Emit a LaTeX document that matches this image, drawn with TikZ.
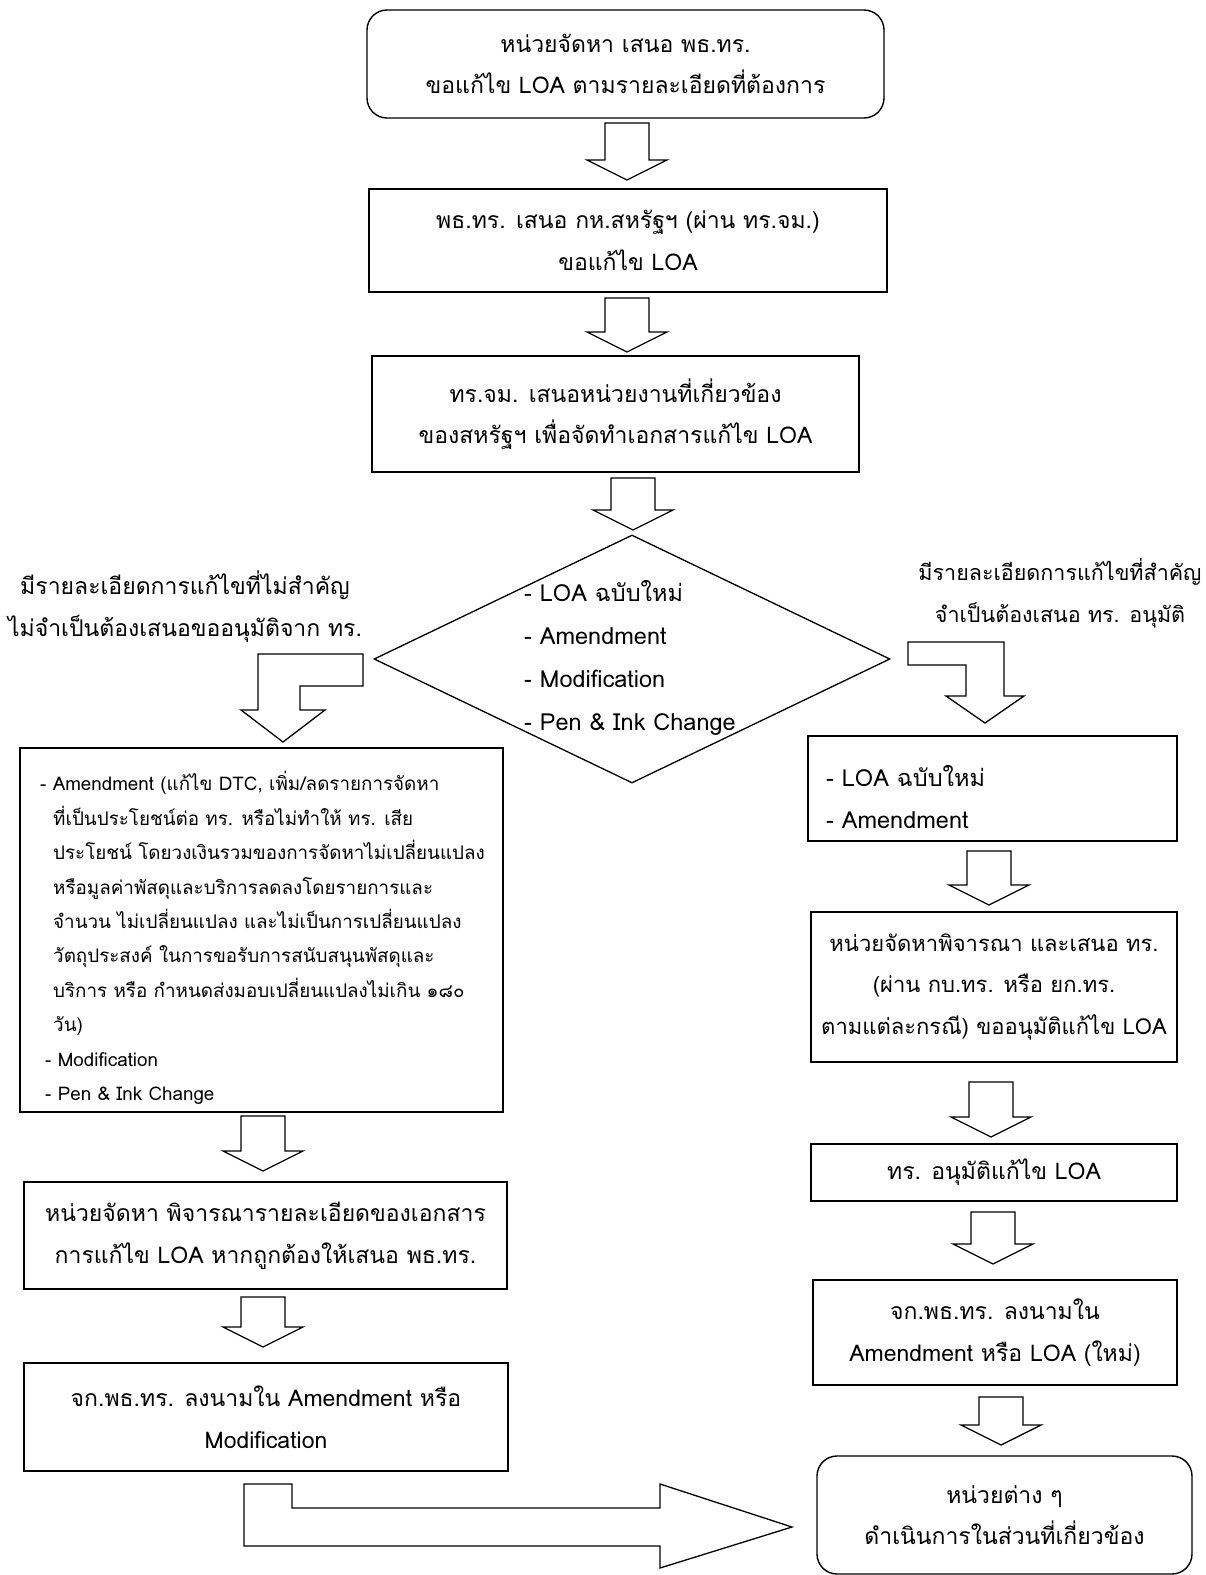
\documentclass[tikz,border=0pt]{standalone}
\usepackage{fontspec}
\newfontfamily\thaifont[Script=Thai]{Loma}
\usetikzlibrary{shapes.geometric}
\tikzset{
  box/.style={draw, line width=1.4pt, inner sep=0pt, align=center,
    font=\thaifont\fontsize{23}{41.5}\selectfont},
  rbox/.style={box, rounded corners=20pt},
  lbl/.style={inner sep=0pt, align=center, font=\thaifont\fontsize{23}{42}\selectfont},
  llbl/.style={inner sep=0pt, align=left, font=\thaifont\fontsize{23.5}{43}\selectfont},
  slbl/.style={inner sep=0pt, align=left, font=\thaifont\fontsize{18.8}{34.4}\selectfont},
  barrow/.style={draw, line width=1.3pt, line join=miter, fill=white},
  dmd/.style={draw, diamond, line width=1.3pt, inner sep=0pt}
}
\newcommand\DnArr[2]{%
  \draw[barrow] (#1) ++(-22,0) -- ++(0,#2-20) -- ++(-18,0) -- ++(40,20)
    -- ++(40,-20) -- ++(-18,0) -- ++(0,-#2+20) -- cycle;}
\begin{document}
\begin{tikzpicture}[x=1pt,y=-1pt]
\useasboundingbox (0,0) rectangle (1206,1575);
% central column
\node[rbox, minimum width=517, minimum height=108] (b1) at (625.5,64)
  {หน่วยจัดหา เสนอ พธ.ทร.\\ขอแก้ไข LOA ตามรายละเอียดที่ต้องการ};
\node[box, minimum width=518, minimum height=103] (b2) at (628,240.5)
  {พธ.ทร. เสนอ กห.สหรัฐฯ (ผ่าน ทร.จม.)\\ขอแก้ไข LOA};
\node[box, minimum width=487, minimum height=116] (b3) at (615.5,414)
  {ทร.จม. เสนอหน่วยงานที่เกี่ยวข้อง\\ของสหรัฐฯ เพื่อจัดทำเอกสารแก้ไข LOA};
\coordinate (a1) at (627,123); \DnArr{a1}{57}
\coordinate (a2) at (627,298); \DnArr{a2}{54}
\coordinate (a3) at (633,478); \DnArr{a3}{52}
% diamond
\node[dmd, minimum width=516, minimum height=248] (dm) at (632,659) {};
\node[llbl, anchor=west] (dmt) at (524,658)
  {- LOA ฉบับใหม่\\- Amendment\\- Modification\\- Pen \& Ink Change};
% side labels
\node[lbl] (ll) at (185,607)
  {มีรายละเอียดการแก้ไขที่ไม่สำคัญ\\ไม่จำเป็นต้องเสนอขออนุมัติจาก ทร.};
\node[lbl, font=\thaifont\fontsize{21.5}{42}\selectfont] (rl) at (1060,593)
  {มีรายละเอียดการแก้ไขที่สำคัญ\\จำเป็นต้องเสนอ ทร. อนุมัติ};
% bent arrows from diamond
\coordinate (lba) at (363,654);
\draw[barrow] (lba) -- (258,654) -- (258,710) -- (241,710) -- (283,742)
  -- (325,710) -- (300,710) -- (300,686) -- (363,686) -- cycle;
\coordinate (rba) at (908,642);
\draw[barrow] (rba) -- (1004,642) -- (1004,696) -- (1024,696) -- (985,723)
  -- (946,696) -- (966,696) -- (966,665) -- (908,665) -- cycle;
% left column
\node[box, minimum width=483, minimum height=364] (l1) at (261.5,930) {};
\node[slbl, anchor=west] (l1t) at (40,938)
  {- Amendment (แก้ไข DTC, เพิ่ม/ลดรายการจัดหา\\
   \hspace*{13pt}ที่เป็นประโยชน์ต่อ ทร. หรือไม่ทำให้ ทร. เสีย\\
   \hspace*{13pt}ประโยชน์ โดยวงเงินรวมของการจัดหาไม่เปลี่ยนแปลง\\
   \hspace*{13pt}หรือมูลค่าพัสดุและบริการลดลงโดยรายการและ\\
   \hspace*{13pt}จำนวน ไม่เปลี่ยนแปลง และไม่เป็นการเปลี่ยนแปลง\\
   \hspace*{13pt}วัตถุประสงค์ ในการขอรับการสนับสนุนพัสดุและ\\
   \hspace*{13pt}บริการ หรือ กำหนดส่งมอบเปลี่ยนแปลงไม่เกิน ๑๘๐\\
   \hspace*{13pt}วัน)\\
   \hspace*{5pt}- Modification\\
   \hspace*{5pt}- Pen \& Ink Change};
\coordinate (al1) at (263,1116); \DnArr{al1}{55}
\node[box, minimum width=483, minimum height=107] (l2) at (265.5,1235.5)
  {หน่วยจัดหา พิจารณารายละเอียดของเอกสาร\\การแก้ไข LOA หากถูกต้องให้เสนอ พธ.ทร.};
\coordinate (al2) at (263,1297); \DnArr{al2}{50}
\node[box, minimum width=484, minimum height=108] (l3) at (266,1417)
  {จก.พธ.ทร. ลงนามใน Amendment หรือ\\Modification};
% right column
\node[box, minimum width=369, minimum height=105] (r1) at (992.5,788.5) {};
\node[llbl, anchor=west] (r1t) at (826,797) {- LOA ฉบับใหม่\\- Amendment};
\coordinate (ar1) at (989,851); \DnArr{ar1}{54}
\node[box, minimum width=366, minimum height=150,
  font=\thaifont\fontsize{22}{41.5}\selectfont] (r2) at (994,987)
  {หน่วยจัดหาพิจารณา และเสนอ ทร.\\(ผ่าน กบ.ทร. หรือ ยก.ทร.\\ตามแต่ละกรณี) ขออนุมัติแก้ไข LOA};
\coordinate (ar2) at (991,1082); \DnArr{ar2}{55}
\node[box, minimum width=366, minimum height=57] (r3) at (994,1172.5)
  {ทร. อนุมัติแก้ไข LOA};
\coordinate (ar3) at (993,1212); \DnArr{ar3}{52}
\node[box, minimum width=364, minimum height=105] (r4) at (995,1332.5)
  {จก.พธ.ทร. ลงนามใน\\Amendment หรือ LOA (ใหม่)};
\coordinate (ar4) at (1001,1397); \DnArr{ar4}{48}
\node[rbox, minimum width=375, minimum height=118] (r5) at (1004.5,1515)
  {หน่วยต่าง ๆ\\ดำเนินการในส่วนที่เกี่ยวข้อง};
% bottom bent arrow
\coordinate (bba) at (244,1484);
\draw[barrow] (bba) -- (292,1484) -- (292,1508) -- (660,1508) -- (660,1484)
  -- (792,1527) -- (660,1568) -- (660,1546) -- (244,1546) -- cycle;
\end{tikzpicture}
\end{document}
